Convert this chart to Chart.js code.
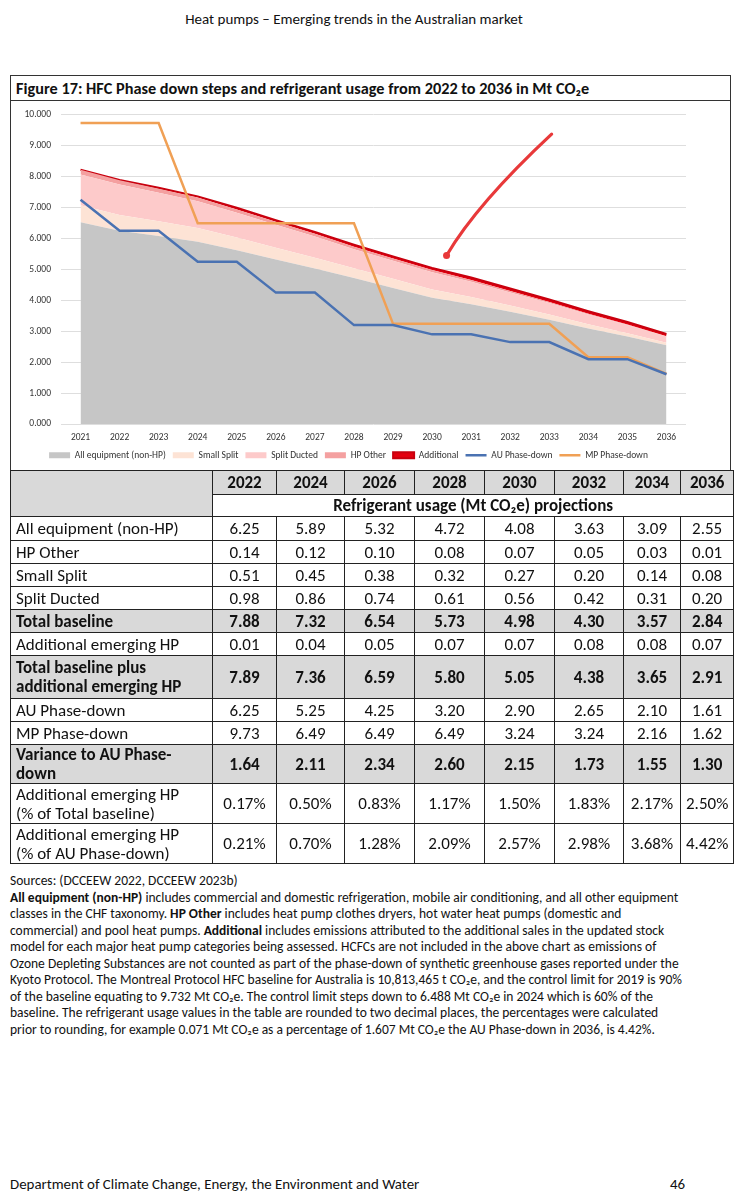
<!DOCTYPE html>
<html>
<head>
<meta charset="utf-8">
<script src="https://cdn.jsdelivr.net/npm/chart.js@4"></script>
<style>
  body { margin: 0; width: 741px; height: 1200px; background: #fff; position: relative;
         font-family: Carlito, "Liberation Sans Narrow", Lato, sans-serif; color: #111; }
  .hdr { position: absolute; top: 10px; left: 0; width: 708px; text-align: center; font-size: 15px; }
  .box { position: absolute; left: 10px; top: 75px; width: 719px; height: 395px;
         border: 1.5px solid #333; border-bottom: none; }
  .title { height: 24px; line-height: 24px; border-bottom: 1.5px solid #333; padding-left: 5px;
           font-weight: bold; font-size: 16.3px; white-space: nowrap; }
  .chartwrap { position: absolute; left: 0; top: 23px; width: 719px; height: 372px; }
  table { position: absolute; left: 10px; top: 470px; border-collapse: collapse; font-size: 17px; }
  td { border: 1px solid #222; padding: 0 5px; text-align: center; white-space: nowrap; }
  td.lab { text-align: left; }
  tr.g td { background: #d9d9d9; font-weight: bold; }
  .notes { position: absolute; left: 10px; top: 873px; font-size: 13.5px; line-height: 16.5px; white-space: nowrap; }
  .foot { position: absolute; left: 10px; top: 1175px; font-size: 14.9px; }
  .page { position: absolute; left: 670px; top: 1175px; font-size: 14.9px; }
</style>
</head>
<body>
<div class="hdr">Heat pumps – Emerging trends in the Australian market</div>

<div class="box">
  <div class="title">Figure 17: HFC Phase down steps and refrigerant usage from 2022 to 2036 in Mt CO₂e</div>
  <div class="chartwrap"><canvas id="hfcChart"></canvas></div>
</div>

<table id="usageTable"></table>

<div class="notes">
Sources: (DCCEEW 2022, DCCEEW 2023b)<br>
<b>All equipment (non-HP)</b> includes commercial and domestic refrigeration, mobile air conditioning, and all other equipment<br>
classes in the CHF taxonomy. <b>HP Other</b> includes heat pump clothes dryers, hot water heat pumps (domestic and<br>
commercial) and pool heat pumps. <b>Additional</b> includes emissions attributed to the additional sales in the updated stock<br>
model for each major heat pump categories being assessed. HCFCs are not included in the above chart as emissions of<br>
Ozone Depleting Substances are not counted as part of the phase-down of synthetic greenhouse gases reported under the<br>
Kyoto Protocol. The Montreal Protocol HFC baseline for Australia is 10,813,465 t CO₂e, and the control limit for 2019 is 90%<br>
of the baseline equating to 9.732 Mt CO₂e. The control limit steps down to 6.488 Mt CO₂e in 2024 which is 60% of the<br>
baseline. The refrigerant usage values in the table are rounded to two decimal places, the percentages were calculated<br>
prior to rounding, for example 0.071 Mt CO₂e as a percentage of 1.607 Mt CO₂e the AU Phase-down in 2036, is 4.42%.
</div>

<div class="foot">Department of Climate Change, Energy, the Environment and Water</div>
<div class="page">46</div>

<script>
// chart series, one value per year
const years = ['2021', '2022', '2023', '2024', '2025', '2026', '2027', '2028',
               '2029', '2030', '2031', '2032', '2033', '2034', '2035', '2036'];
const allEquipment = [6.52, 6.25, 6.08, 5.89, 5.62, 5.32, 5.03, 4.72, 4.40, 4.08, 3.87, 3.63, 3.37, 3.09, 2.83, 2.55];
const smallSplit   = [0.55, 0.51, 0.48, 0.45, 0.41, 0.38, 0.35, 0.32, 0.30, 0.27, 0.24, 0.20, 0.17, 0.14, 0.11, 0.08];
const splitDucted  = [1.00, 0.98, 0.92, 0.86, 0.80, 0.74, 0.68, 0.61, 0.58, 0.56, 0.49, 0.42, 0.37, 0.31, 0.26, 0.20];
const hpOther      = [0.15, 0.14, 0.13, 0.12, 0.11, 0.10, 0.09, 0.08, 0.07, 0.07, 0.06, 0.05, 0.04, 0.03, 0.02, 0.01];
const additional   = [0.00, 0.01, 0.03, 0.04, 0.05, 0.05, 0.06, 0.07, 0.07, 0.07, 0.08, 0.08, 0.08, 0.08, 0.08, 0.07];
const auPhaseDown  = [7.25, 6.25, 6.25, 5.25, 5.25, 4.25, 4.25, 3.20, 3.20, 2.90, 2.90, 2.65, 2.65, 2.10, 2.10, 1.61];
const mpPhaseDown  = [9.73, 9.73, 9.73, 6.49, 6.49, 6.49, 6.49, 6.49, 3.24, 3.24, 3.24, 3.24, 3.24, 2.16, 2.16, 1.62];

// hand-drawn red tick on the page, [year index, value]
const inkNote = [[9.37, 5.45], [9.96, 6.71], [10.99, 8.11], [12.06, 9.37]];

// table (even years)
const tableYears = ['2022', '2024', '2026', '2028', '2030', '2032', '2034', '2036'];
const tAllEquipment = ['6.25', '5.89', '5.32', '4.72', '4.08', '3.63', '3.09', '2.55'];
const tHpOther      = ['0.14', '0.12', '0.10', '0.08', '0.07', '0.05', '0.03', '0.01'];
const tSmallSplit   = ['0.51', '0.45', '0.38', '0.32', '0.27', '0.20', '0.14', '0.08'];
const tSplitDucted  = ['0.98', '0.86', '0.74', '0.61', '0.56', '0.42', '0.31', '0.20'];
const tTotal        = ['7.88', '7.32', '6.54', '5.73', '4.98', '4.30', '3.57', '2.84'];
const tAdditional   = ['0.01', '0.04', '0.05', '0.07', '0.07', '0.08', '0.08', '0.07'];
const tTotalPlus    = ['7.89', '7.36', '6.59', '5.80', '5.05', '4.38', '3.65', '2.91'];
const tAu           = ['6.25', '5.25', '4.25', '3.20', '2.90', '2.65', '2.10', '1.61'];
const tMp           = ['9.73', '6.49', '6.49', '6.49', '3.24', '3.24', '2.16', '1.62'];
const tVariance     = ['1.64', '2.11', '2.34', '2.60', '2.15', '1.73', '1.55', '1.30'];
const tPctTotal     = ['0.17%', '0.50%', '0.83%', '1.17%', '1.50%', '1.83%', '2.17%', '2.50%'];
const tPctAu        = ['0.21%', '0.70%', '1.28%', '2.09%', '2.57%', '2.98%', '3.68%', '4.42%'];

// build table
const colW = [202, 64, 68, 70, 70, 70, 69, 57, 51];
const rows = [
  ['All equipment (non-HP)', tAllEquipment, '', 24],
  ['HP Other', tHpOther, '', 23],
  ['Small Split', tSmallSplit, '', 23],
  ['Split Ducted', tSplitDucted, '', 23],
  ['Total baseline', tTotal, 'g', 23],
  ['Additional emerging HP', tAdditional, '', 23],
  ['Total baseline plus<br>additional emerging HP', tTotalPlus, 'g', 43],
  ['AU Phase-down', tAu, '', 23],
  ['MP Phase-down', tMp, '', 23],
  ['Variance to AU Phase-<br>down', tVariance, 'g', 38],
  ['Additional emerging HP<br>(% of Total baseline)', tPctTotal, '', 40],
  ['Additional emerging HP<br>(% of AU Phase-down)', tPctAu, '', 40],
];
let html = '<colgroup>' + colW.map(w => `<col style="width:${w}px">`).join('') + '</colgroup>';
html += '<tr class="g" style="height:24px"><td rowspan="2" style="background:#d9d9d9"></td>' +
        tableYears.map(y => `<td>${y}</td>`).join('') + '</tr>';
html += '<tr style="height:22px"><td colspan="8" style="font-weight:bold">Refrigerant usage (Mt CO₂e) projections</td></tr>';
rows.forEach(([label, vals, cls, h]) => {
  html += `<tr class="${cls}" style="height:${h}px"><td class="lab" style="line-height:19px">${label}</td>` +
          vals.map(v => `<td>${v}</td>`).join('') + '</tr>';
});
document.getElementById('usageTable').innerHTML = html;

// red pen mark drawn on top
const inkPlugin = {
  id: 'ink',
  afterDraw(chart) {
    const x = chart.scales.x, y = chart.scales.y, ctx = chart.ctx;
    const p = inkNote.map(([i, v]) => [x.getPixelForValue(i), y.getPixelForValue(v)]);
    ctx.save();
    ctx.strokeStyle = '#e8393a';
    ctx.lineWidth = 3.2;
    ctx.lineCap = 'round';
    ctx.beginPath();
    ctx.moveTo(p[0][0], p[0][1]);
    ctx.bezierCurveTo(p[1][0], p[1][1], p[2][0], p[2][1], p[3][0], p[3][1]);
    ctx.stroke();
    ctx.fillStyle = '#e8393a';
    ctx.beginPath();
    ctx.arc(p[0][0], p[0][1], 3.5, 0, Math.PI * 2);
    ctx.fill();
    ctx.restore();
  }
};

const tickFont = { family: 'Carlito, "Liberation Sans Narrow", Lato, sans-serif', size: 9.5 };

function area(label, data, color, fill) {
  return { label, data, backgroundColor: color, borderColor: color, borderWidth: 0,
           fill, pointRadius: 0, tension: 0, stack: 'usage', order: 1, pointStyle: 'rect' };
}
function line(label, data, color) {
  return { label, data, borderColor: color, backgroundColor: color, borderWidth: 2.5,
           fill: false, pointRadius: 0, tension: 0, stack: label, order: 0, pointStyle: 'line' };
}

new Chart(document.getElementById('hfcChart'), {
  type: 'line',
  data: {
    labels: years,
    datasets: [
      area('All equipment (non-HP)', allEquipment, '#c6c6c6', 'origin'),
      area('Small Split', smallSplit, '#fde3d5', '-1'),
      area('Split Ducted', splitDucted, '#fdcaca', '-1'),
      area('HP Other', hpOther, '#f4a0a0', '-1'),
      Object.assign(area('Additional', additional, '#e3000f', '-1'), { borderColor: '#c8000e', borderWidth: 2 }),
      line('AU Phase-down', auPhaseDown, '#4a72b2'),
      line('MP Phase-down', mpPhaseDown, '#f0a055'),
    ]
  },
  options: {
    responsive: true,
    maintainAspectRatio: false,
    animation: false,
    layout: { padding: { left: 0, right: 44, top: 1, bottom: 1 } },
    scales: {
      x: {
        offset: true,
        afterFit(s) { s.height = s.height - 8; },
        grid: { display: false, drawTicks: false },
        border: { display: false },
        ticks: { font: tickFont, color: '#333', padding: 8, maxRotation: 0, autoSkip: false }
      },
      y: {
        stacked: true,
        min: 0, max: 10,
        afterFit(s) { s.width = 50; },
        grid: { color: '#dedede', drawTicks: false },
        border: { display: false },
        ticks: { stepSize: 1, font: tickFont, color: '#333', padding: 10,
                 callback: v => v.toFixed(3) }
      }
    },
    plugins: {
      tooltip: { enabled: false },
      legend: {
        position: 'bottom',
        labels: {
          font: tickFont, color: '#333', boxHeight: 6, padding: 7,
          usePointStyle: true, pointStyleWidth: 21,
          sort: (a, b) => a.datasetIndex - b.datasetIndex
        }
      }
    }
  },
  plugins: [inkPlugin]
});
</script>
</body>
</html>
